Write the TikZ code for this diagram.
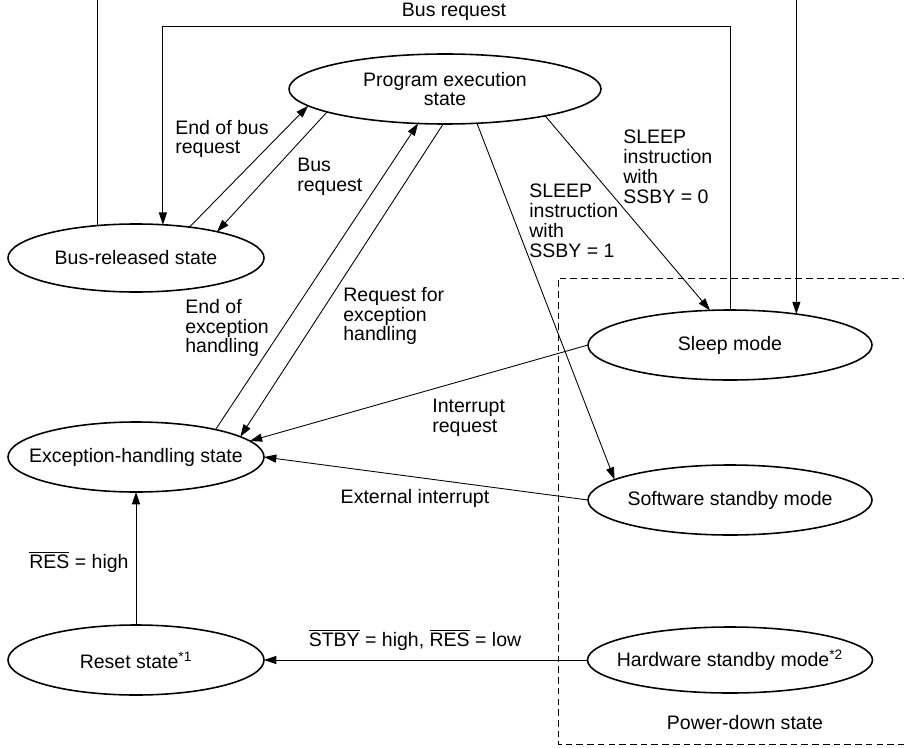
\documentclass[tikz,border=0pt]{standalone}
\usepackage{fontspec}
\setmainfont{Liberation Sans}
\usetikzlibrary{arrows.meta,shapes.geometric}

\newcommand{\lowact}[1]{$\overline{\mbox{#1}}$}
\newcommand{\nowidth}[1]{\makebox[0pt]{#1}}

\begin{document}
\begin{tikzpicture}[
    font=\fontsize{11.1}{11.3}\selectfont,
    state/.style={draw,ellipse,line width=0.9pt,inner sep=0pt,outer sep=0pt,align=center},
    arr/.style={-{Triangle[length=7pt,width=4.6pt]},line width=0.5pt},
    lbl/.style={align=left,anchor=west,inner sep=0pt}]
  \useasboundingbox (0,0) rectangle (18.08,14.94);
  \clip (0,0) rectangle (18.08,14.94);

  % power-down region
  \draw[line width=0.5pt,dash pattern=on 3.8pt off 2.3pt]
    (18.4,9.38) -- (11.16,9.38) -- (11.16,0.05) -- (18.4,0.05);
  \node (pd) at (14.90,0.48) {Power-down state};

  % states
  \node[state,minimum width=6.24cm,minimum height=1.40cm] (prog) at (8.90,13.16) {\nowidth{Program execution}\\state};
  \node[state,minimum width=5.12cm,minimum height=1.36cm] (busrel) at (2.72,9.78) {\nowidth{Bus-released state}};
  \node[state,minimum width=5.68cm,minimum height=1.40cm] (sleep) at (14.60,8.04) {\nowidth{Sleep mode}};
  \node[state,minimum width=5.12cm,minimum height=1.40cm] (exc) at (2.72,5.80) {\nowidth{Exception-handling state}};
  \node[state,minimum width=5.68cm,minimum height=1.40cm] (sw) at (14.60,4.94) {\nowidth{Software standby mode}};
  \node[state,minimum width=5.12cm,minimum height=1.40cm] (reset) at (2.72,1.74) {\nowidth{Reset state\textsuperscript{*1}}};
  \node[state,minimum width=5.70cm,minimum height=1.32cm] (hw) at (14.60,1.74) {\nowidth{Hardware standby mode\textsuperscript{*2}}};

  % bus request loops over the top
  \coordinate (outer) at (0,15.30);
  \coordinate (inner) at (0,14.42);
  \draw[arr] (busrel.140) |- (sleep.25 |- outer) -- (sleep.25);
  \draw[arr] (sleep.north) |- (busrel.51 |- inner) -- (busrel.51);
  \node (lbus) at (9.08,14.70) {Bus request};

  \draw[arr] (busrel.30) -- (prog.187);
  \draw[arr] (prog.191) -- (busrel.18);
  \node[lbl] (lendbus) at (3.50,12.16) {End of bus\\request};
  \node[lbl] (lbusreq) at (5.94,11.41) {Bus\\request};

  \draw[arr] (exc.19) -- (prog.232);
  \draw[arr] (prog.267) -- (exc.11);
  \node[lbl] (lendexc) at (3.70,8.38) {End of\\exception\\handling};
  \node[lbl] (lreqexc) at (6.86,8.62) {Request for\\exception\\handling};

  \draw[arr] (prog.313) -- (sw.170);
  \draw[arr] (prog.345) -- (sleep.120);
  \node[lbl] (lssby1) at (10.58,10.53) {SLEEP\\instruction\\with\\SSBY = 1};
  \node[lbl] (lssby0) at (12.46,11.60) {SLEEP\\instruction\\with\\SSBY = 0};

  \draw[arr] (sleep.west) -- (exc.8);
  \node[lbl] (lirq) at (8.64,6.59) {Interrupt\\request};
  \draw[arr] (sw.west) -- (exc.east);
  \node (lext) at (8.30,4.98) {External interrupt};

  \draw[arr] (reset.north) -- (exc.south);
  \node[lbl] (lres) at (0.58,3.70) {\lowact{RES} = high};
  \draw[arr] (hw.west) -- (reset.east);
  \node (lstby) at (8.30,2.14) {\lowact{STBY} = high, \lowact{RES} = low};
\end{tikzpicture}
\end{document}
